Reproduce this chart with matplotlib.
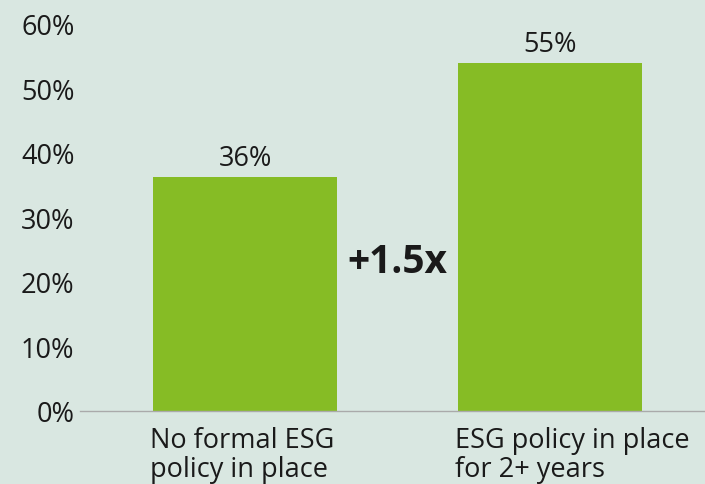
import matplotlib
matplotlib.use("Agg")
import matplotlib.pyplot as plt

categories = ["No formal ESG\npolicy in place", "ESG policy in place\nfor 2+ years"]
values = [36.3, 53.9]
value_labels = ["36%", "55%"]
yticks = [0, 10, 20, 30, 40, 50, 60]
ytick_labels = ["0%", "10%", "20%", "30%", "40%", "50%", "60%"]
annotation = "+1.5x"

BG = "#d9e7e1"
BAR = "#86bc25"
TXT = "#1a1a1a"
FS = 19.5
plt.rcParams['font.family'] = ['Open Sans', 'DejaVu Sans']

fig = plt.figure(figsize=(7.05, 4.85), dpi=100, facecolor=BG)
ax = fig.add_axes([80/705, 73/485, 625/705, 387/485], facecolor=BG)

x = list(range(len(categories)))
width = 0.603
ax.bar(x, values, width=width, color=BAR, zorder=2)

ax.set_xlim(-0.541, 1.508)
ax.set_ylim(0, 60)
ax.set_yticks(yticks)
ax.set_yticklabels(ytick_labels, fontsize=FS, color=TXT)
ax.tick_params(axis='y', length=0, pad=4)
ax.set_xticks([])

for s in ["top", "right", "left"]:
    ax.spines[s].set_visible(False)
ax.spines["bottom"].set_color("#aaaaaa")
ax.spines["bottom"].set_linewidth(1.0)

for xi, v, lab in zip(x, values, value_labels):
    ax.annotate(lab, xy=(xi, v), xytext=(0, 3.5), textcoords="offset points",
                ha="center", va="bottom", fontsize=FS, color=TXT)

for xi, cat in zip(x, categories):
    ax.annotate(cat, xy=(xi - width/2, 0), xytext=(-2, -10.5), textcoords="offset points",
                ha="left", va="top", fontsize=FS, color=TXT,
                linespacing=1.05, annotation_clip=False)

ax.text(0.5, (412-262)/6.458, annotation, ha="center", va="center",
        fontsize=28, fontweight="bold", color=TXT)

fig.savefig("out.png", dpi=100, facecolor=BG)
